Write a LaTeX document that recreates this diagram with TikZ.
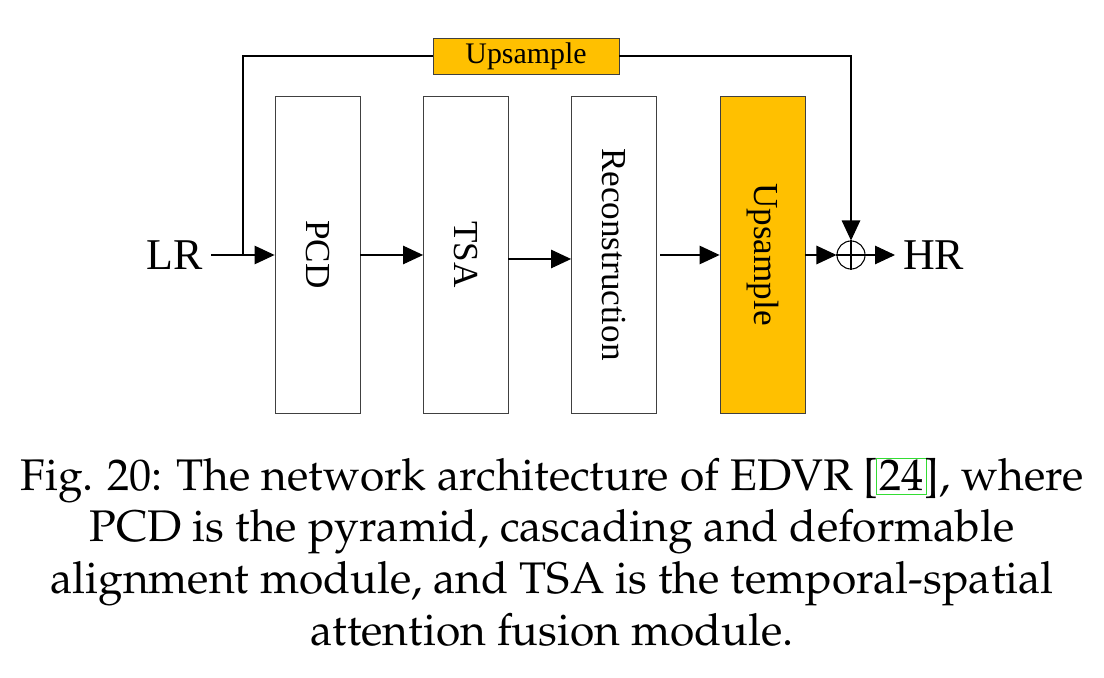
\documentclass[tikz,border=0pt]{standalone}
\usepackage[T1]{fontenc}
\usepackage{fontspec}
\setmainfont{Liberation Serif}
\usetikzlibrary{arrows.meta}
\definecolor{orng}{HTML}{FFC000}
\definecolor{boxline}{HTML}{404040}
\definecolor{linkgreen}{HTML}{33DD33}
\newcommand{\capfont}{\fontencoding{T1}\fontfamily{ppl}\selectfont}
\newcommand{\linkbox}[1]{{\fboxsep=0pt\fboxrule=0.5pt\kern-1.5pt\textcolor{linkgreen}{\fbox{\kern1.5pt\rule[-2pt]{0pt}{20pt}\textcolor{black}{#1}\kern1.5pt}}\kern-1.5pt}}
\begin{document}
\begin{tikzpicture}[x=0.02cm,y=-0.02cm,
  blk/.style={draw=boxline,line width=0.5pt,minimum width=1.7cm,minimum height=6.34cm,inner sep=0pt},
  lbl/.style={font=\fontsize{20}{24}\selectfont,rotate=-90},
  arr/.style={line width=0.6pt,-{Triangle[length=0.4cm,width=0.37cm]}},
  ln/.style={line width=0.6pt},
  io/.style={font=\fontsize{25}{30}\selectfont,inner sep=4.5pt}]
\useasboundingbox (0,0) rectangle (1104,678);
\node[blk] (pcd) at (317.5,254.5) {};
\node[lbl] at (pcd.center) {PCD};
\node[blk] (tsa) at (466,254.5) {};
\node[lbl] at (tsa.center) {TSA};
\node[blk] (rec) at (614,254.5) {};
\node[lbl] at (rec.center) {Reconstruction};
\node[blk,fill=orng] (ups) at (762.5,254.5) {};
\node[lbl] at (ups.center) {Upsample};
\node[draw=boxline,fill=orng,line width=0.5pt,minimum width=3.72cm,minimum height=0.72cm,inner sep=0pt,font=\fontsize{17}{20}\selectfont] (top) at (526,56) {Upsample};
\node[draw,circle,line width=0.6pt,minimum size=0.56cm,inner sep=0pt] (sum) at (851,255) {};
\draw[ln] (sum.north) -- (sum.south) (sum.west) -- (sum.east);
\node[io,anchor=east] (lr) at (211,255) {LR};
\node[io,anchor=west] (hr) at (895,255) {HR};
\coordinate (jn) at (243,255);
\coordinate (r1) at (508,259);
\coordinate (r2) at (660,255);
\draw[arr] (lr.east) -- (pcd.west |- lr.east);
\draw[arr] (pcd.east |- lr.east) -- (tsa.west |- lr.east);
\draw[arr] (r1) -- (rec.west |- r1);
\draw[arr] (r2) -- (ups.west |- r2);
\draw[arr] (ups.east |- sum.west) -- (sum.west);
\draw[arr] (sum.east) -- (hr.west);
\draw[ln] (jn) |- (top.west);
\draw[arr] (top.east) -| (sum.north);
\node[align=center,inner sep=0pt,font=\capfont\fontsize{25.2}{29.5}\selectfont] (cap) at (552,552) {Fig. 20: The network architecture of EDVR [\linkbox{24}], where\\ PCD is the pyramid, cascading and deformable\\ alignment module, and TSA is the temporal-spatial\\ attention fusion module.};
\end{tikzpicture}
\end{document}
